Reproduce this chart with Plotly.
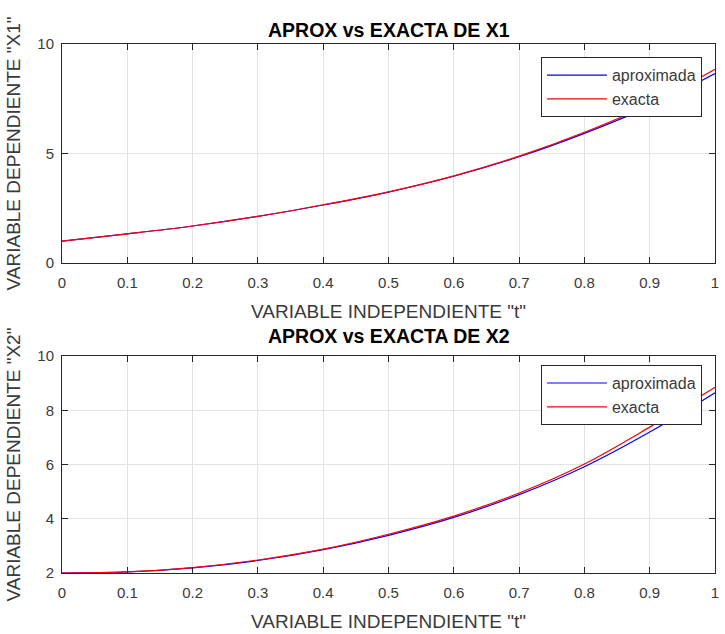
import plotly.graph_objects as go

t = [0.0, 0.1, 0.2, 0.3, 0.4, 0.5, 0.6, 0.7, 0.8, 0.9, 1.0]
x1_aprox = [1.0, 1.33, 1.69, 2.13, 2.65, 3.24, 3.96, 4.85, 5.92, 7.15, 8.65]
x1_exacta = [1.0, 1.33, 1.69, 2.13, 2.66, 3.25, 3.98, 4.88, 5.97, 7.25, 8.85]
x2_aprox = [2.0, 2.04, 2.19, 2.46, 2.86, 3.39, 4.05, 4.89, 5.92, 7.20, 8.65]
x2_exacta = [2.0, 2.04, 2.20, 2.48, 2.88, 3.43, 4.10, 4.95, 6.02, 7.38, 8.85]

x_ticks = [0, 0.1, 0.2, 0.3, 0.4, 0.5, 0.6, 0.7, 0.8, 0.9, 1]
x_ticklabels = ["0", "0.1", "0.2", "0.3", "0.4", "0.5", "0.6", "0.7", "0.8", "0.9", "1"]
y1_ticks = [0, 5, 10]
y2_ticks = [2, 4, 6, 8, 10]

FONT = "Liberation Sans, Arial, sans-serif"
AX = "#262626"
TXT = "#3a3a3a"
GRID = "#e3e3e3"
BLUE = "#0000ff"
RED = "#ff0000"

fig = go.Figure()
fig.add_trace(go.Scatter(x=t, y=x1_aprox, mode="lines", name="aproximada",
                         line=dict(color=BLUE, width=1.2, shape="spline"),
                         xaxis="x", yaxis="y", legend="legend"))
fig.add_trace(go.Scatter(x=t, y=x1_exacta, mode="lines", name="exacta",
                         line=dict(color=RED, width=1.2, shape="spline"),
                         xaxis="x", yaxis="y", legend="legend"))
fig.add_trace(go.Scatter(x=t, y=x2_aprox, mode="lines", name="aproximada",
                         line=dict(color=BLUE, width=1.2, shape="spline"),
                         xaxis="x2", yaxis="y2", legend="legend2"))
fig.add_trace(go.Scatter(x=t, y=x2_exacta, mode="lines", name="exacta",
                         line=dict(color=RED, width=1.2, shape="spline"),
                         xaxis="x2", yaxis="y2", legend="legend2"))

top_dom = [0.586, 1.0]
bot_dom = [0.0, 0.410]

def xaxis_cfg(anchor, standoff):
    return dict(
        domain=[0, 1], anchor=anchor, range=[0, 1],
        tickmode="array", tickvals=x_ticks, ticktext=x_ticklabels,
        ticks="inside", ticklen=6, tickcolor=AX, tickwidth=1,
        showline=True, linecolor=AX, linewidth=1, mirror="allticks",
        showgrid=True, gridcolor=GRID, gridwidth=1, zeroline=False,
        tickfont=dict(family=FONT, size=15, color=TXT),
        ticklabelstandoff=6,
        title=dict(text='VARIABLE INDEPENDIENTE "t"', standoff=standoff,
                   font=dict(family=FONT, size=19, color=TXT)),
    )

def yaxis_cfg(anchor, dom, rng, ticks, label):
    return dict(
        domain=dom, anchor=anchor, range=rng,
        tickmode="array", tickvals=ticks,
        ticks="inside", ticklen=6, tickcolor=AX, tickwidth=1,
        showline=True, linecolor=AX, linewidth=1, mirror="allticks",
        showgrid=True, gridcolor=GRID, gridwidth=1, zeroline=False,
        tickfont=dict(family=FONT, size=15, color=TXT),
        ticklabelstandoff=4,
        title=dict(text=label, standoff=11,
                   font=dict(family=FONT, size=19, color=TXT)),
    )

legend_common = dict(
    xref="paper", yref="paper", xanchor="right", yanchor="top",
    bgcolor="white", bordercolor=AX, borderwidth=1,
    font=dict(family=FONT, size=16, color=TXT),
    tracegroupgap=0, itemwidth=60,
)

fig.update_layout(
    width=725, height=634,
    margin=dict(l=62, r=6, t=44, b=61),
    paper_bgcolor="white", plot_bgcolor="white",
    xaxis=xaxis_cfg("y", 14),
    yaxis=yaxis_cfg("x", top_dom, [0, 10], y1_ticks, 'VARIABLE DEPENDIENTE "X1"'),
    xaxis2=xaxis_cfg("y2", 14),
    yaxis2=yaxis_cfg("x2", bot_dom, [2, 10], y2_ticks, 'VARIABLE DEPENDIENTE "X2"'),
    legend=dict(x=0.98, y=0.975, **legend_common),
    legend2=dict(x=0.98, y=0.393, **legend_common),
    annotations=[
        dict(text="<b>APROX vs EXACTA DE X1</b>", xref="paper", yref="paper",
             x=0.5, y=top_dom[1], xanchor="center", yanchor="bottom", yshift=1,
             showarrow=False, font=dict(family=FONT, size=19.5, color="#000000")),
        dict(text="<b>APROX vs EXACTA DE X2</b>", xref="paper", yref="paper",
             x=0.5, y=bot_dom[1], xanchor="center", yanchor="bottom", yshift=7,
             showarrow=False, font=dict(family=FONT, size=19.5, color="#000000")),
    ],
    showlegend=True,
)

fig.write_html(
    "out.html",
    config={"displayModeBar": False},
    post_script="document.body.style.margin='0';document.body.style.padding='0';",
)
